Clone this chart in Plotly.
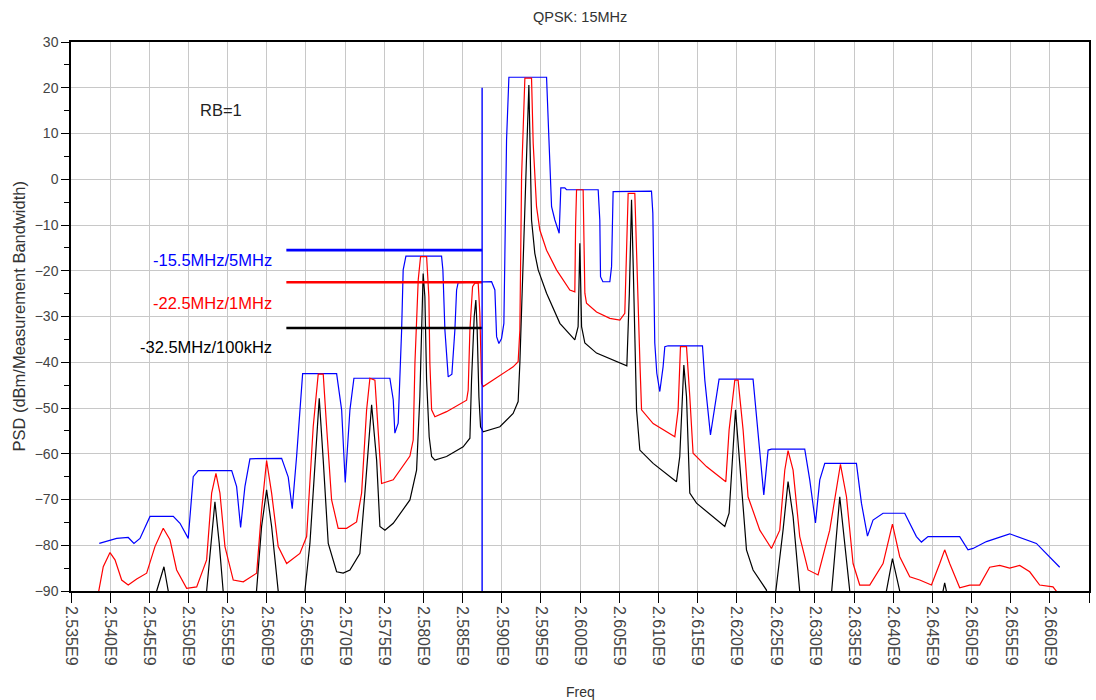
import plotly.graph_objects as go

# ---------------- data (frequency in MHz, PSD in dBm) ----------------
blue_freq_mhz = [2538.61, 2540.83, 2542.31, 2543.04, 2543.81, 2545.09, 2548.06, 2548.92, 2549.97,
                 2550.61, 2551.25, 2555.52, 2556.15, 2556.66, 2557.21, 2557.85, 2561.90, 2562.74,
                 2563.25, 2563.81, 2564.58, 2568.92, 2569.56, 2570.02, 2570.62, 2571.13, 2575.72,
                 2576.15, 2576.36, 2576.78, 2577.22, 2577.42, 2577.77, 2582.32, 2582.49, 2582.75,
                 2583.17, 2583.64, 2584.02, 2584.24, 2584.44, 2588.71, 2589.13, 2589.35, 2589.64,
                 2589.98, 2590.28, 2590.40, 2590.62, 2590.92, 2595.73, 2596.02, 2596.37, 2596.79,
                 2597.34, 2597.55, 2598.06, 2598.28, 2602.32, 2602.53, 2602.62, 2602.92, 2603.81,
                 2604.03, 2604.23, 2609.13, 2609.30, 2609.55, 2609.81, 2610.19, 2610.61, 2610.83,
                 2611.25, 2615.64, 2615.94, 2616.66, 2617.12, 2617.43, 2617.76, 2622.10, 2622.74,
                 2623.47, 2624.02, 2624.45, 2628.70, 2629.34, 2630.07, 2630.62, 2631.26, 2635.30,
                 2635.94, 2636.71, 2637.42, 2638.70, 2641.47, 2642.96, 2643.60, 2644.44, 2648.49,
                 2649.55, 2650.19, 2651.90, 2654.87, 2658.28, 2661.26]
blue_psd = [-79.6, -78.5, -78.3, -79.6, -78.5, -73.7, -73.7, -75.2, -78.5,
            -65.0, -63.7, -63.7, -67.2, -76.1, -67.2, -61.1, -61.0, -65.1,
            -72.0, -60.6, -42.5, -42.5, -50.4, -66.3, -50.4, -43.5, -43.5,
            -48.2, -55.5, -53.3, -33.0, -19.8, -16.8, -16.8, -19.8, -33.0,
            -43.2, -42.6, -33.0, -24.2, -22.6, -22.4, -24.2, -34.4, -35.9,
            -34.8, -31.5, -18.4, 8.6, 22.3, 22.3, 9.3, -6.0, -8.9,
            -11.8, -1.9, -1.9, -2.3, -2.3, -8.9, -21.3, -22.4, -22.4,
            -19.1, -2.7, -2.6, -7.4, -35.8, -42.4, -46.4, -41.0, -36.6,
            -36.4, -36.4, -43.9, -55.9, -51.2, -47.5, -43.7, -43.7, -54.8,
            -69.0, -59.2, -59.0, -59.0, -65.7, -75.1, -65.7, -62.1, -62.1,
            -70.8, -78.0, -74.5, -73.0, -73.0, -78.1, -79.3, -78.1, -78.1,
            -81.0, -80.7, -79.2, -77.5, -79.6, -84.8]

red_freq_mhz = [2538.49, 2539.12, 2539.98, 2540.62, 2541.47, 2542.31, 2543.39, 2544.66, 2545.72,
                2546.78, 2547.64, 2548.49, 2549.77, 2551.05, 2552.32, 2552.96, 2553.51, 2554.02,
                2554.66, 2555.72, 2557.00, 2558.71, 2559.34, 2559.98, 2560.62, 2561.46, 2562.54,
                2564.23, 2565.09, 2565.93, 2566.57, 2567.21, 2567.64, 2568.28, 2569.12, 2570.20,
                2571.47, 2572.11, 2572.75, 2573.17, 2573.81, 2574.23, 2574.66, 2576.15, 2578.28,
                2578.70, 2578.92, 2579.34, 2579.64, 2580.41, 2580.70, 2580.83, 2581.05, 2581.47,
                2582.96, 2585.52, 2585.72, 2585.94, 2586.28, 2586.57, 2587.00, 2587.21, 2587.43,
                2587.63, 2591.46, 2592.10, 2592.32, 2592.54, 2592.83, 2592.96, 2593.81, 2594.02,
                2594.45, 2594.87, 2595.73, 2597.00, 2598.70, 2599.34, 2599.44, 2599.56, 2600.40,
                2600.62, 2600.83, 2602.11, 2603.81, 2605.09, 2605.72, 2606.15, 2607.00, 2607.22,
                2607.64, 2607.86, 2609.34, 2612.11, 2612.53, 2612.83, 2613.60, 2614.02, 2614.44,
                2616.15, 2618.62, 2619.04, 2619.77, 2620.19, 2620.83, 2621.46, 2622.96, 2624.45,
                2625.51, 2626.15, 2626.57, 2627.21, 2628.06, 2629.12, 2630.40, 2631.89, 2633.26,
                2634.03, 2634.87, 2635.72, 2637.00, 2638.70, 2639.90, 2640.83, 2642.11, 2643.38,
                2644.88, 2645.94, 2646.57, 2647.21, 2648.49, 2649.77, 2651.04, 2652.32, 2653.60,
                2654.87, 2656.15, 2657.43, 2658.70, 2660.40, 2661.04]
red_psd = [-90.5, -84.7, -81.6, -83.2, -87.6, -88.7, -87.4, -86.1, -80.3,
           -76.3, -78.8, -85.4, -89.4, -89.1, -83.2, -68.6, -64.3, -68.6,
           -80.3, -87.6, -88.0, -86.1, -72.3, -61.5, -68.6, -80.3, -84.0,
           -81.8, -78.1, -54.1, -42.6, -42.6, -54.1, -70.1, -76.3, -76.3,
           -74.9, -68.6, -50.4, -43.5, -43.9, -54.1, -66.5, -65.7, -60.5,
           -57.0, -40.2, -22.0, -16.9, -16.9, -25.7, -40.2, -50.4, -51.9,
           -50.8, -48.3, -46.1, -33.0, -23.5, -22.7, -22.7, -29.3, -44.6,
           -45.3, -41.0, -39.9, -33.0, 0.6, 18.8, 22.1, 22.1, 7.9,
           -6.0, -11.1, -15.5, -19.8, -24.2, -24.6, -10.0, -2.3, -2.3,
           -24.9, -27.1, -29.0, -30.4, -30.8, -29.3, -3.1, -3.1, -17.7,
           -39.5, -50.4, -53.4, -56.3, -50.4, -36.6, -36.6, -47.5, -59.9,
           -62.8, -66.1, -54.8, -43.9, -43.9, -54.8, -69.4, -76.7, -80.7,
           -76.7, -63.6, -59.3, -63.6, -78.1, -85.4, -86.5, -76.7, -62.3,
           -69.4, -84.0, -88.7, -88.7, -84.0, -75.4, -82.5, -86.9, -87.6,
           -88.7, -84.0, -81.0, -84.0, -89.3, -88.7, -88.7, -84.8, -84.4,
           -85.0, -84.4, -85.8, -88.7, -89.1, -90.5]

black_freq_mhz = [2545.09, 2545.94, 2546.87, 2547.42, 2547.89, 2551.85, 2552.32, 2552.96, 2553.38,
                  2553.93, 2554.44, 2554.91, 2558.23, 2558.71, 2559.34, 2559.98, 2560.62, 2561.46,
                  2561.94, 2564.36, 2564.87, 2565.51, 2566.15, 2566.70, 2567.21, 2567.85, 2568.92,
                  2569.76, 2570.62, 2571.89, 2572.53, 2573.39, 2574.03, 2574.45, 2575.09, 2576.15,
                  2578.28, 2579.13, 2579.55, 2579.85, 2579.97, 2580.19, 2580.41, 2580.74, 2581.05,
                  2581.47, 2582.96, 2585.08, 2585.94, 2586.15, 2586.49, 2586.70, 2586.87, 2587.09,
                  2587.30, 2587.63, 2589.77, 2591.46, 2592.10, 2592.32, 2592.74, 2593.17, 2593.47,
                  2593.81, 2594.23, 2594.66, 2595.73, 2597.43, 2599.34, 2599.76, 2599.98, 2600.20,
                  2600.62, 2602.11, 2604.19, 2605.09, 2605.98, 2606.30, 2606.58, 2606.81, 2607.22,
                  2607.64, 2609.34, 2612.32, 2612.74, 2613.26, 2613.60, 2614.02, 2614.88, 2618.49,
                  2619.04, 2619.86, 2620.40, 2621.26, 2622.10, 2623.81, 2624.24, 2624.87, 2625.93,
                  2626.57, 2627.21, 2628.06, 2628.57, 2631.64, 2632.11, 2633.17, 2634.45, 2634.96,
                  2638.66, 2639.13, 2639.90, 2640.83, 2641.34, 2646.06, 2646.36, 2646.57, 2646.79,
                  2647.20]
black_psd = [-100, -90.0, -84.7, -90.0, -100, -100, -90.0, -77.4, -70.5,
             -79.6, -90.0, -100, -100, -90.0, -75.9, -67.9, -75.9, -90.0,
             -100, -100, -90.0, -79.6, -61.4, -47.9, -61.4, -79.6, -85.8,
             -86.1, -85.4, -81.8, -68.6, -49.3, -61.4, -75.9, -76.7, -75.2,
             -70.1, -63.6, -47.5, -29.3, -20.6, -25.7, -43.9, -56.3, -60.6,
             -61.4, -60.6, -58.5, -56.6, -43.9, -30.0, -26.4, -33.0, -47.5,
             -54.1, -55.2, -54.1, -51.2, -48.6, -40.2, -18.4, 4.2, 20.6,
             -8.9, -16.2, -19.8, -24.9, -31.5, -35.1, -32.2, -14.0, -32.2,
             -35.8, -38.0, -39.5, -40.2, -40.8, -25.0, -4.5, -20.0, -50.4,
             -59.2, -62.1, -66.1, -60.6, -40.6, -47.5, -68.6, -70.8, -75.9,
             -73.0, -50.4, -62.1, -81.0, -85.4, -89.8, -95.0, -92.0, -76.7,
             -66.1, -73.7, -90.0, -100, -100, -90.0, -69.4, -90.0, -100,
             -100, -90.0, -82.9, -90.0, -100, -100, -90.0, -88.2, -90.0,
             -100]

limit_labels = ["-15.5MHz/5MHz", "-22.5MHz/1MHz", "-32.5MHz/100kHz"]
limit_levels = [-15.5, -22.5, -32.5]
limit_label_y = [-17.6, -27.0, -36.7]
limit_start_mhz = 2562.5
limit_end_mhz = 2587.5
channel_edge_mhz = 2587.5
channel_edge_top = 20

x_ticks_mhz = [2535 + 5 * i for i in range(27)]
x_tick_text = ["%.3fE9" % (f / 1000.0) for f in x_ticks_mhz]

colors = ["#0000ff", "#ff0000", "#000000"]
FONT = "Liberation Sans, Arial, sans-serif"

fig = go.Figure()
for fr, ps, c in [(blue_freq_mhz, blue_psd, colors[0]),
                  (red_freq_mhz, red_psd, colors[1]),
                  (black_freq_mhz, black_psd, colors[2])]:
    fig.add_trace(go.Scatter(x=[f * 1e6 for f in fr], y=ps, mode="lines",
                             line=dict(color=c, width=1.2), showlegend=False,
                             hoverinfo="skip"))

for lvl, c in zip(limit_levels, colors):
    fig.add_trace(go.Scatter(x=[limit_start_mhz * 1e6, limit_end_mhz * 1e6], y=[lvl, lvl],
                             mode="lines", line=dict(color=c, width=2.6),
                             showlegend=False, hoverinfo="skip"))

fig.add_trace(go.Scatter(x=[channel_edge_mhz * 1e6, channel_edge_mhz * 1e6], y=[-90, channel_edge_top],
                         mode="lines", line=dict(color="#0000ff", width=1.4),
                         showlegend=False, hoverinfo="skip"))

annotations = []
for txt, yv, c in zip(limit_labels, limit_label_y, colors):
    annotations.append(dict(x=2560.9e6, y=yv, xref="x", yref="y", text=txt, showarrow=False,
                            xanchor="right", yanchor="middle",
                            font=dict(family=FONT, size=16.5, color=c)))
annotations.append(dict(x=2554.2e6, y=15.1, xref="x", yref="y", text="RB=1", showarrow=False,
                        xanchor="center", yanchor="middle",
                        font=dict(family=FONT, size=16.5, color="#222222")))
annotations.append(dict(x=0.5, y=1.0455, xref="paper", yref="paper", text="QPSK: 15MHz",
                        showarrow=False, xanchor="center", yanchor="middle",
                        font=dict(family=FONT, size=14.5, color="#333333")))
annotations.append(dict(x=0.5, y=-0.184, xref="paper", yref="paper", text="Freq",
                        showarrow=False, xanchor="center", yanchor="middle",
                        font=dict(family=FONT, size=14, color="#333333")))
annotations.append(dict(x=-0.052, y=0.5, xref="paper", yref="paper",
                        text="PSD (dBm/Measurement Bandwidth)", textangle=-90,
                        showarrow=False, xanchor="center", yanchor="middle",
                        font=dict(family=FONT, size=16.5, color="#333333")))

fig.update_layout(
    template="none",
    width=1096, height=700,
    margin=dict(l=71, r=7, t=42, b=109),
    paper_bgcolor="white", plot_bgcolor="white",
    annotations=annotations,
    xaxis=dict(range=[2535e6, 2665e6], tickmode="array", automargin=False,
               tickvals=[f * 1e6 for f in x_ticks_mhz], ticktext=x_tick_text,
               tickangle=90, ticks="outside", ticklen=10, tickcolor="black", tickwidth=1.3,
               showline=True, linecolor="black", linewidth=1.5, mirror=True,
               showgrid=True, gridcolor="#c8c8c8", gridwidth=1.2, zeroline=False,
               tickfont=dict(family=FONT, size=16, color="#444444")),
    yaxis=dict(range=[-90, 30], tick0=-90, dtick=10, ticks="outside", ticklen=8,
               automargin=False, tickcolor="black", tickwidth=1.3,
               minor=dict(dtick=5, tick0=-90, ticks="outside", ticklen=5, tickcolor="black", showgrid=False),
               showline=True, linecolor="black", linewidth=1.5, mirror=True,
               showgrid=True, gridcolor="#c8c8c8", gridwidth=1.2, zeroline=False,
               tickfont=dict(family=FONT, size=14, color="#444444")),
)

fig.write_html("out.html")
